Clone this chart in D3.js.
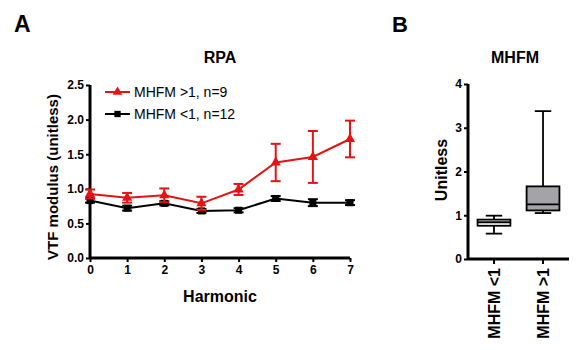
<!DOCTYPE html>
<html><head><meta charset="utf-8">
<script src="https://cdn.jsdelivr.net/npm/d3@7"></script>
<style>body{margin:0;background:#fff}svg{display:block}text{font-family:"Liberation Sans",Arial,sans-serif}</style>
</head><body>
<svg id="c" width="587" height="350"></svg>
<script>
// ---- Panel A data ----
const harmonics = [0,1,2,3,4,5,6,7];
const hiMean = [0.925,0.87,0.905,0.79,0.99,1.38,1.46,1.72];
const hiErr  = [0.065,0.07,0.10,0.095,0.08,0.27,0.375,0.265];
const loMean = [0.83,0.72,0.79,0.68,0.69,0.86,0.80,0.80];
const loErr  = [0.03,0.035,0.03,0.03,0.03,0.035,0.05,0.035];
const yTicksA = [0,0.5,1.0,1.5,2.0,2.5];
const seriesNames = ["MHFM >1, n=9","MHFM <1, n=12"];
// ---- Panel B data ----
const boxCats = ["MHFM <1","MHFM >1"];
const boxMin = [0.58,1.05];
const boxQ1  = [0.76,1.11];
const boxMed = [0.84,1.25];
const boxQ3  = [0.90,1.66];
const boxMax = [0.99,3.38];
const boxFill = ["#ffffff","#a3a3a8"];
const yTicksB = [0,1,2,3,4];

const RED = "#e41414";
const svg = d3.select("#c");
const bold = "bold";

// Panel letters
svg.append("text").attr("x",14).attr("y",32).attr("font-size",23).attr("font-weight",bold).text("A");
svg.append("text").attr("x",392).attr("y",32).attr("font-size",22).attr("font-weight",bold).text("B");

// ---- Panel A ----
const xA = d3.scaleLinear().domain([0,7]).range([90,350]);
const yA = d3.scaleLinear().domain([0,2.5]).range([258,85]);
const gA = svg.append("g");
gA.append("text").attr("x",220).attr("y",63).attr("text-anchor","middle").attr("font-size",16).attr("font-weight",bold).text("RPA");

const axY = gA.append("g").attr("transform","translate(90,0)")
  .call(d3.axisLeft(yA).tickValues(yTicksA).tickFormat(d3.format(".1f")).tickSize(4).tickPadding(2));
const axX = gA.append("g").attr("transform","translate(0,258)")
  .call(d3.axisBottom(xA).tickValues(harmonics).tickFormat(d3.format("d")).tickSize(4).tickPadding(3));
[axY,axX].forEach(a=>{
  a.select(".domain").attr("stroke","#000").attr("stroke-width",3);
  a.selectAll(".tick line").attr("stroke","#000").attr("stroke-width",2);
  a.selectAll(".tick text").attr("font-size",12).attr("font-weight",bold).attr("fill","#000").attr("font-family","Liberation Sans, Arial, sans-serif");
});
axY.select(".domain").attr("d","M0,258V85");
axX.select(".domain").attr("d","M90,0H350");

gA.append("text").attr("x",220).attr("y",302).attr("text-anchor","middle").attr("font-size",16).attr("font-weight",bold).text("Harmonic");
gA.append("text").attr("transform","translate(58,177) rotate(-90)").attr("text-anchor","middle").attr("font-size",15).attr("font-weight",bold).text("VTF modulus (unitless)");

function drawSeries(mean, err, color, marker){
  const line = d3.line().x((d,i)=>xA(harmonics[i])).y(d=>yA(d));
  gA.append("path").datum(mean).attr("d",line).attr("fill","none").attr("stroke",color).attr("stroke-width",2);
  const eg = gA.append("g").attr("stroke",color).attr("stroke-width",2);
  mean.forEach((m,i)=>{
    const x = xA(harmonics[i]), t = yA(m+err[i]), b = yA(m-err[i]);
    eg.append("line").attr("x1",x).attr("x2",x).attr("y1",t).attr("y2",b);
    eg.append("line").attr("x1",x-5).attr("x2",x+5).attr("y1",t).attr("y2",t);
    eg.append("line").attr("x1",x-5).attr("x2",x+5).attr("y1",b).attr("y2",b);
  });
  const sym = d3.symbol().type(marker).size(marker===d3.symbolSquare?50:45);
  gA.append("g").selectAll("path").data(mean).join("path")
    .attr("transform",(d,i)=>`translate(${xA(harmonics[i])},${yA(d)})`).attr("d",sym).attr("fill",color);
}
drawSeries(loMean, loErr, "#000", d3.symbolSquare);
drawSeries(hiMean, hiErr, RED, d3.symbolTriangle);

// legend
const leg = [{name:seriesNames[0],c:RED,m:d3.symbolTriangle,y:92},{name:seriesNames[1],c:"#000",m:d3.symbolSquare,y:114}];
leg.forEach(l=>{
  gA.append("line").attr("x1",105).attr("x2",130).attr("y1",l.y).attr("y2",l.y).attr("stroke",l.c).attr("stroke-width",2);
  gA.append("path").attr("transform",`translate(117.5,${l.y})`).attr("d",d3.symbol().type(l.m).size(40)).attr("fill",l.c);
  gA.append("text").attr("x",134).attr("y",l.y+5).attr("font-size",14).text(l.name);
});

// ---- Panel B ----
const xB = d3.scaleBand().domain(boxCats).range([468,569]).paddingInner(0.33).paddingOuter(0.195);
const yB = d3.scaleLinear().domain([0,4]).range([259,84]);
const gB = svg.append("g");
gB.append("text").attr("x",515).attr("y",63).attr("text-anchor","middle").attr("font-size",16).attr("font-weight",bold).text("MHFM");
const bY = gB.append("g").attr("transform","translate(468,0)")
  .call(d3.axisLeft(yB).tickValues(yTicksB).tickFormat(d3.format("d")).tickSize(4).tickPadding(2));
const bX = gB.append("g").attr("transform","translate(0,259)")
  .call(d3.axisBottom(xB).tickSize(5).tickFormat(""));
[bY,bX].forEach(a=>{
  a.select(".domain").attr("stroke","#000").attr("stroke-width",3);
  a.selectAll(".tick line").attr("stroke","#000").attr("stroke-width",2);
  a.selectAll(".tick text").attr("font-size",12).attr("font-weight",bold).attr("fill","#000").attr("font-family","Liberation Sans, Arial, sans-serif");
});
bY.select(".domain").attr("d","M0,259V84");
bX.select(".domain").attr("d","M468,0H569");
gB.append("text").attr("transform","translate(447,170) rotate(-90)").attr("text-anchor","middle").attr("font-size",16).attr("font-weight",bold).text("Unitless");
boxCats.forEach((c,i)=>{
  const cx = xB(c)+xB.bandwidth()/2;
  gB.append("text").attr("transform",`translate(${cx+6},268) rotate(-90)`).attr("text-anchor","end").attr("font-size",16).attr("font-weight",bold).text(c);
});

boxCats.forEach((c,i)=>{
  const x0 = xB(c), w = xB.bandwidth(), cx = x0+w/2, cw = w/4;
  const g = gB.append("g").attr("stroke","#000").attr("stroke-width",1.8);
  g.append("line").attr("x1",cx).attr("x2",cx).attr("y1",yB(boxMax[i])).attr("y2",yB(boxMin[i]));
  g.append("line").attr("x1",cx-cw).attr("x2",cx+cw).attr("y1",yB(boxMax[i])).attr("y2",yB(boxMax[i]));
  g.append("line").attr("x1",cx-cw).attr("x2",cx+cw).attr("y1",yB(boxMin[i])).attr("y2",yB(boxMin[i]));
  g.append("rect").attr("x",x0).attr("width",w).attr("y",yB(boxQ3[i])).attr("height",yB(boxQ1[i])-yB(boxQ3[i])).attr("fill",boxFill[i]);
  g.append("line").attr("x1",x0).attr("x2",x0+w).attr("y1",yB(boxMed[i])).attr("y2",yB(boxMed[i]));
});
</script>
</body></html>
